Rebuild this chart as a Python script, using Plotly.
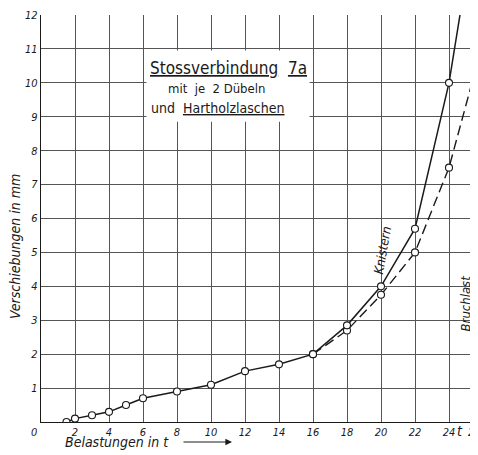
import plotly.graph_objects as go

# Solid curve (Belastungen in t vs Verschiebungen in mm)
load_t = [1.5, 2, 3, 4, 5, 6, 8, 10, 12, 14, 16, 18, 20, 22, 24, 25]
disp_mm = [0, 0.1, 0.2, 0.3, 0.5, 0.7, 0.9, 1.1, 1.5, 1.7, 2.0, 2.85, 4.0, 5.7, 10.0, 13.1]

# Dashed curve
dash_load_t = [16, 18, 20, 22, 24, 26]
dash_disp_mm = [2.0, 2.7, 3.75, 5.0, 7.5, 11.2]

x_ticks = [2, 4, 6, 8, 10, 12, 14, 16, 18, 20, 22, 24]
y_ticks = [1, 2, 3, 4, 5, 6, 7, 8, 9, 10, 11, 12]

INK = "#1a1a1a"
GRID = "#555555"
FONT = "DejaVu Sans Condensed, Liberation Sans Narrow, DejaVu Sans, sans-serif"

# page has an 8px body margin
OFF = 8
W, H = 478 - OFF, 455 - OFF
L, R, T = 33, 0, 7
B = H - (422 - OFF)
PW, PH = W - L - R, H - T - B


def px(sx, sy):
    """screen pixel -> paper coords"""
    return (sx - OFF - L) / PW, (H - B - (sy - OFF)) / PH


fig = go.Figure()

fig.add_trace(go.Scatter(
    x=dash_load_t, y=dash_disp_mm, mode="lines+markers",
    line=dict(color=INK, width=1.4, dash="10px,5px"),
    marker=dict(symbol="circle", size=7, color="white", line=dict(color=INK, width=1.1)),
    showlegend=False, hoverinfo="skip"))

fig.add_trace(go.Scatter(
    x=load_t, y=disp_mm, mode="lines+markers",
    line=dict(color=INK, width=1.5),
    marker=dict(symbol="circle", size=7, color="white", line=dict(color=INK, width=1.1)),
    showlegend=False, hoverinfo="skip"))

# white box behind the caption
fig.add_shape(type="rect", xref="x", yref="y", x0=6.2, x1=15.8, y0=8.85, y1=10.95,
              fillcolor="white", line=dict(width=0), layer="between")

ital = dict(family=FONT, color=INK, style="italic")
C = dict(xanchor="center", yanchor="middle")

fig.add_annotation(x=11.0, y=10.45, xref="x", yref="y", showarrow=False,
                   text="<u>Stossverbindung</u>  <u>7a</u>",
                   font=dict(family=FONT, size=17, color=INK), **C)
fig.add_annotation(x=10.35, y=9.83, xref="x", yref="y", showarrow=False,
                   text="mit  je  2 Dübeln",
                   font=dict(family=FONT, size=13, color=INK), **C)
fig.add_annotation(x=10.4, y=9.27, xref="x", yref="y", showarrow=False,
                   text="und  <u>Hartholzlaschen</u>",
                   font=dict(family=FONT, size=14, color=INK), **C)

fig.add_annotation(x=20.1, y=5.05, xref="x", yref="y", showarrow=False,
                   text="Knistern", textangle=-80, font=dict(size=13, **ital), **C)
fig.add_annotation(x=24.95, y=3.5, xref="x", yref="y", showarrow=False,
                   text="Bruchlast", textangle=-90, font=dict(size=13, **ital), **C)


def pann(sx, sy, text, size, xanchor="center", angle=0):
    x, y = px(sx, sy)
    fig.add_annotation(x=x, y=y, xref="paper", yref="paper", showarrow=False,
                       text=text, font=dict(size=size, **ital), textangle=angle,
                       xanchor=xanchor, yanchor="middle")


pann(15, 247, "Verschiebungen in mm", 14, angle=-90)
pann(63, 442, "Belastungen in t", 14, xanchor="left")
pann(34, 432, "0", 11)
pann(460, 431, "t", 14)
pann(466, 432, "2", 11, xanchor="left")

ax, ay = px(232, 442)
fig.add_annotation(x=ax, y=ay, xref="paper", yref="paper", ax=-50, ay=0,
                   axref="pixel", ayref="pixel", showarrow=True, text="",
                   arrowhead=2, arrowsize=1.2, arrowwidth=1.1, arrowcolor=INK)

fig.update_layout(
    width=W, height=H, autosize=False,
    margin=dict(l=L, r=R, t=T, b=B, pad=0),
    paper_bgcolor="white", plot_bgcolor="white",
    xaxis=dict(range=[0, PW / 17.0], tickvals=x_ticks, ticktext=[str(v) for v in x_ticks],
               showgrid=True, gridcolor=GRID, gridwidth=1, zeroline=False,
               showline=True, linecolor=INK, linewidth=1.4, ticks="",
               tickfont=dict(size=11, **ital), fixedrange=True, automargin=False),
    yaxis=dict(range=[0, 12], tickvals=y_ticks, ticktext=[str(v) for v in y_ticks],
               showgrid=True, gridcolor=GRID, gridwidth=1, zeroline=False,
               showline=True, linecolor=INK, linewidth=1.4, ticks="", ticklabelstandoff=0,
               tickfont=dict(size=11, **ital), fixedrange=True, automargin=False),
)

fig.write_html("out.html")
